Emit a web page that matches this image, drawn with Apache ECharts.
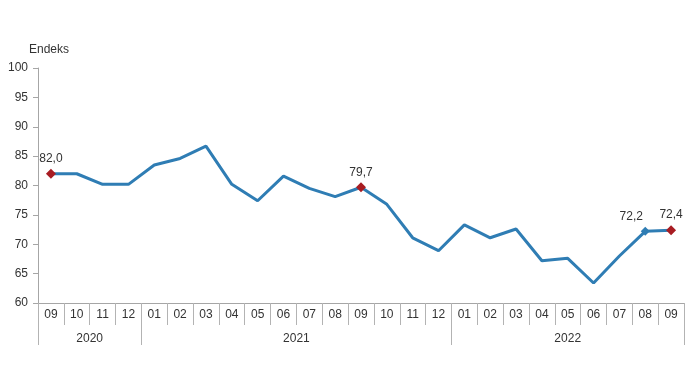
<!DOCTYPE html>
<html><head><meta charset="utf-8">
<script src="https://cdn.jsdelivr.net/npm/echarts@6/dist/echarts.min.js"></script>
<style>html,body{margin:0;padding:0;background:#fff}#c{width:690px;height:390px}</style>
</head><body><div id="c"></div>
<script>
const months = ['09','10','11','12','01','02','03','04','05','06','07','08','09','10','11','12','01','02','03','04','05','06','07','08','09'];
const years = ['2020','2021','2022'];
const yearSpans = [4, 12, 9];
const values = [82.0,82.0,80.2,80.2,83.5,84.6,86.7,80.2,77.4,81.6,79.5,78.1,79.7,76.8,71.1,68.9,73.3,71.1,72.6,67.2,67.6,63.4,68.0,72.2,72.4];
const redPoints = [0, 12, 24];
const bluePoints = [23];

const yearBounds = [0];
yearSpans.forEach(s => yearBounds.push(yearBounds[yearBounds.length-1] + s));
const yearCenters = yearSpans.map((s,i) => yearBounds[i] + s/2);

const font = 'Liberation Sans, Arial, sans-serif';
const data = values.map((v,i) => {
  if (redPoints.includes(i)) {
    return {value: v, symbol: 'diamond', symbolSize: 10, itemStyle: {color: '#a81c22'},
      label: {show: true, position: 'top', distance: 4}};
  }
  if (bluePoints.includes(i)) {
    return {value: v, symbol: 'diamond', symbolSize: 9, itemStyle: {color: '#2f7db4'},
      label: {show: true, position: 'top', distance: 4, offset: [-14, 0]}};
  }
  return {value: v, symbol: 'none'};
});

const chart = echarts.init(document.getElementById('c'));
chart.setOption({
  animation: false,
  grid: {left: 38, right: 6, top: 68, bottom: 87, containLabel: false, outerBoundsMode: 'none'},
  xAxis: [{
    type: 'category', data: months, boundaryGap: true,
    axisLine: {lineStyle: {color: '#a6a6a6', width: 1}},
    axisTick: {show: true, interval: 0, length: 22, lineStyle: {color: '#b3b3b3'}},
    axisLabel: {interval: 0, color: '#333', fontSize: 12, fontFamily: font, margin: 6}
  }, {
    type: 'value', min: 0, max: months.length, position: 'bottom',
    axisLine: {show: false}, splitLine: {show: false},
    axisTick: {show: true, customValues: yearBounds, length: 42, lineStyle: {color: '#b3b3b3'}},
    axisLabel: {customValues: yearCenters, color: '#333', fontSize: 12, fontFamily: font, margin: 30,
      formatter: v => years[yearCenters.indexOf(v)] || ''}
  }],
  yAxis: {
    type: 'value', min: 60, max: 100, interval: 5,
    name: 'Endeks', nameLocation: 'end', nameGap: 12,
    nameTextStyle: {color: '#333', fontSize: 12, fontFamily: font, align: 'left', padding: [0,0,0,-9]},
    axisLine: {show: true, lineStyle: {color: '#a6a6a6'}},
    axisTick: {show: true, length: 5, lineStyle: {color: '#a6a6a6'}},
    axisLabel: {color: '#333', fontSize: 12, fontFamily: font, margin: 10},
    splitLine: {show: false}
  },
  series: [{
    type: 'line', data: data, xAxisIndex: 0,
    lineStyle: {color: '#2f7db4', width: 3},
    itemStyle: {color: '#2f7db4'},
    label: {show: false, color: '#333', fontSize: 12, fontFamily: font, formatter: p => p.value.toFixed(1).replace('.', ',')},
    showAllSymbol: true
  }]
});
</script></body></html>
